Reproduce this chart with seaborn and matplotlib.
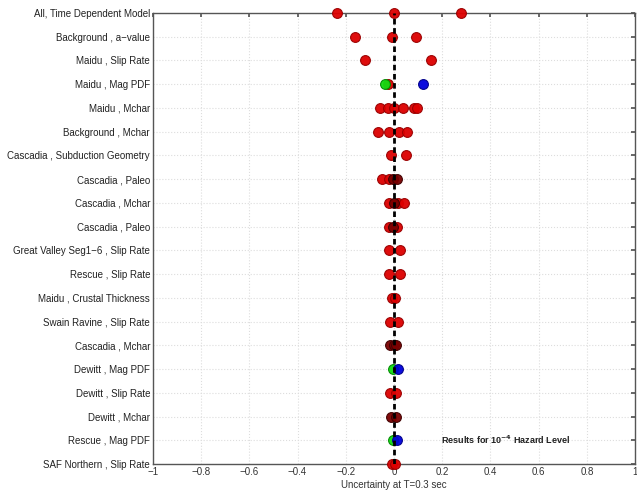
import numpy as np
import pandas as pd
import matplotlib
matplotlib.use("Agg")
import matplotlib.pyplot as plt
import seaborn as sns

sns.set_theme(style="white")
plt.rcParams['font.family'] = ['Liberation Sans', 'DejaVu Sans']

categories = [
    "All, Time Dependent Model", "Background , a\u2212value", "Maidu , Slip Rate",
    "Maidu , Mag PDF", "Maidu , Mchar", "Background , Mchar",
    "Cascadia , Subduction Geometry", "Cascadia , Paleo", "Cascadia , Mchar",
    "Cascadia , Paleo", "Great Valley Seg1\u22126 , Slip Rate", "Rescue , Slip Rate",
    "Maidu , Crustal Thickness", "Swain Ravine , Slip Rate", "Cascadia , Mchar",
    "Dewitt , Mag PDF", "Dewitt , Slip Rate", "Dewitt , Mchar",
    "Rescue , Mag PDF", "SAF Northern , Slip Rate",
]

# (row index, value, colour group)
red_rows = [0, 0, 0, 1, 1, 1, 2, 2, 3, 4, 4, 4, 4, 4, 4, 5, 5, 5, 5, 6, 6,
            7, 7, 8, 8, 8, 9, 9, 10, 10, 11, 11, 12, 12, 13, 13, 16, 16, 19, 19]
red_vals = [-0.236, 0.0, 0.279, -0.162, -0.010, 0.090, -0.121, 0.155, -0.026,
            -0.059, -0.023, 0.0, 0.038, 0.084, 0.096,
            -0.066, -0.022, 0.019, 0.054, -0.014, 0.048,
            -0.049, -0.022, -0.020, 0.018, 0.040, -0.020, 0.011,
            -0.022, 0.023, -0.022, 0.023, -0.010, 0.005, -0.017, 0.018,
            -0.015, 0.008, -0.008, 0.005]
dark_rows = [7, 7, 8, 9, 14, 14, 14, 17, 17]
dark_vals = [-0.005, 0.011, 0.0, -0.003, -0.015, 0.0, 0.010, -0.012, 0.010]
green_rows = [3, 15, 18]
green_vals = [-0.039, -0.005, -0.005]
blue_rows = [3, 15, 18]
blue_vals = [0.121, 0.015, 0.014]

xticks = [-1, -0.8, -0.6, -0.4, -0.2, 0, 0.2, 0.4, 0.6, 0.8, 1]
xticklabels = ["\u22121", "\u22120.8", "\u22120.6", "\u22120.4", "\u22120.2", "0",
               "0.2", "0.4", "0.6", "0.8", "1"]

df = pd.DataFrame({
    "row": red_rows + dark_rows + green_rows + blue_rows,
    "value": red_vals + dark_vals + green_vals + blue_vals,
    "group": (["red"] * len(red_rows) + ["dark"] * len(dark_rows)
              + ["green"] * len(green_rows) + ["blue"] * len(blue_rows)),
})

palette = {"red": "#dd0000", "dark": "#7a0000", "green": "#11dd11", "blue": "#0000dd"}
edges = {"red": "#990000", "dark": "#400000", "green": "#008800", "blue": "#000088"}

fig = plt.figure(figsize=(6.37, 4.91), dpi=100)
ax = fig.add_axes([0.240, 0.055, 0.757, 0.9185])

for g in ["red", "dark", "green", "blue"]:
    sub = df[df.group == g]
    sns.scatterplot(data=sub, x="value", y="row", color=palette[g], edgecolor=edges[g],
                    linewidth=0.8, s=50, ax=ax, legend=False, zorder=3, clip_on=False,
                    alpha=0.95)

ax.axvline(0, color="black", linestyle=(0, (2.0, 1.3)), linewidth=2, zorder=4)

ax.set_xlim(-1, 1)
ax.set_ylim(len(categories) - 1, 0)
ax.set_yticks(range(len(categories)))
ax.set_yticklabels(categories, fontsize=7)
ax.set_xticks(xticks)
ax.set_xticklabels(xticklabels, fontsize=7, color="#333333")
ax.set_xlabel("Uncertainty at T=0.3 sec", fontsize=7, labelpad=2, color="#333333")
ax.set_ylabel("")
ax.grid(True, linestyle=":", color="#dddddd", linewidth=0.8)
ax.tick_params(axis="both", direction="in", length=3, color="#555555",
               top=True, right=True, pad=2)
ax.tick_params(axis="y", labelcolor="#222222")
for sp in ax.spines.values():
    sp.set_color("#555555")
    sp.set_linewidth(1.0)

ax.text(0.195, 18, r"Results for 10$^{\mathbf{-4}}$ Hazard Level", fontsize=6.5,
        fontweight="bold", va="center", ha="left", color="#222222")

fig.savefig("out.png", dpi=100)
